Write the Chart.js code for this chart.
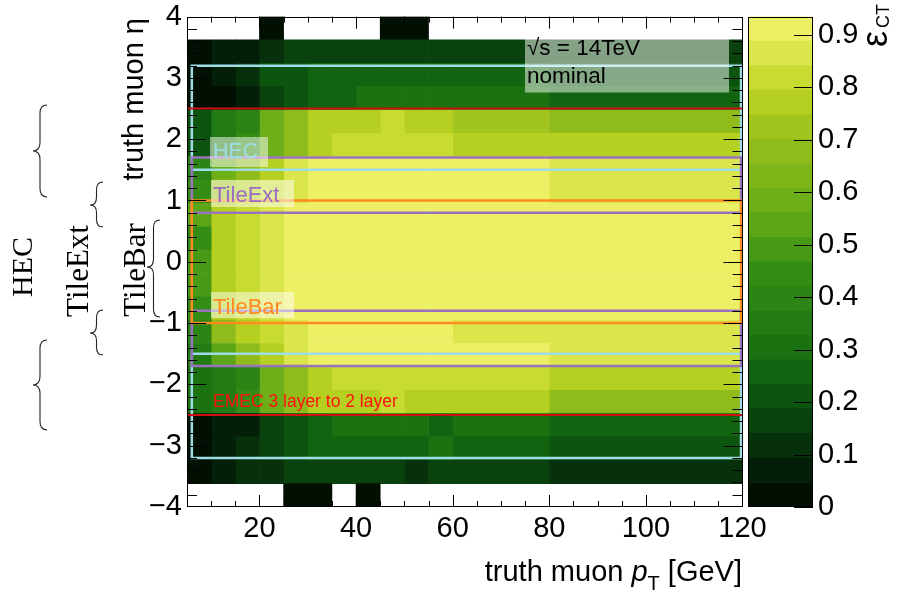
<!DOCTYPE html>
<html>
<head>
<meta charset="utf-8">
<script src="https://cdn.jsdelivr.net/npm/chart.js@4.4.1/dist/chart.umd.min.js"></script>
<style>
html,body{margin:0;padding:0;background:#fff;}
#wrap{position:relative;width:899px;height:599px;overflow:hidden;}
#wrap canvas{position:absolute;left:0;top:0;}
</style>
</head>
<body>
<div id="wrap">
<canvas id="main" width="899" height="599"></canvas>
<canvas id="cbar" width="899" height="599"></canvas>
</div>
<script>
// ---------------- data ----------------
const ptEdges = [5, 10, 15, 20, 25, 30, 35, 40, 45, 50, 55, 60, 80, 120];
const etaCentres = ['3.81','3.43','3.05','2.67','2.29','1.90','1.52','1.14','0.76','0.38','0.00',
                    '-0.38','-0.76','-1.14','-1.52','-1.90','-2.29','-2.67','-3.05','-3.43','-3.81'];
const ptTicks = [20, 40, 60, 80, 100, 120];
const etaTicks = [-4, -3, -2, -1, 0, 1, 2, 3, 4];
const effTicks = [0, 0.1, 0.2, 0.3, 0.4, 0.5, 0.6, 0.7, 0.8, 0.9];
const effMax = 0.935;

// efficiency, one row per eta bin (top row first), one value per pT bin
const effEtaP381 = [null,null,null,0,null,null,null,null,0,0,null,null,null];
const effEtaP343 = [0.02,0.07,0.07,0.12,0.16,0.16,0.16,0.16,0.16,0.16,0.16,0.16,0.16];
const effEtaP305 = [0.02,0.07,0.12,0.21,0.21,0.26,0.26,0.26,0.26,0.26,0.26,0.26,0.21];
const effEtaP267 = [0.02,0.02,0.07,0.16,0.21,0.26,0.26,0.30,0.30,0.30,0.30,0.30,0.26];
const effEtaP229 = [0.21,0.35,0.40,0.58,0.68,0.77,0.77,0.77,0.82,0.77,0.77,0.72,0.70];
const effEtaP190 = [0.21,0.35,0.44,0.58,0.68,0.77,0.82,0.82,0.82,0.82,0.82,0.77,0.77];
const effEtaP152 = [0.40,0.58,0.68,0.77,0.86,0.91,0.91,0.91,0.91,0.91,0.91,0.91,0.86];
const effEtaP114 = [0.44,0.72,0.77,0.82,0.86,0.91,0.91,0.91,0.91,0.91,0.91,0.91,0.86];
const effEtaP076 = [0.54,0.77,0.82,0.86,0.91,0.91,0.91,0.91,0.91,0.91,0.91,0.91,0.91];
const effEtaP038 = [0.44,0.77,0.82,0.86,0.91,0.91,0.91,0.91,0.91,0.91,0.91,0.91,0.91];
const effEta000  = [0.49,0.77,0.82,0.86,0.91,0.91,0.91,0.91,0.91,0.91,0.91,0.91,0.91];
const effEtaM038 = [0.49,0.77,0.82,0.86,0.91,0.91,0.91,0.91,0.91,0.91,0.91,0.91,0.91];
const effEtaM076 = [0.44,0.77,0.82,0.86,0.91,0.91,0.91,0.91,0.91,0.91,0.91,0.91,0.91];
const effEtaM114 = [0.40,0.68,0.77,0.82,0.86,0.91,0.91,0.91,0.91,0.91,0.91,0.86,0.86];
const effEtaM152 = [0.35,0.54,0.68,0.77,0.86,0.91,0.91,0.91,0.91,0.91,0.91,0.91,0.86];
const effEtaM190 = [0.30,0.35,0.40,0.58,0.68,0.77,0.82,0.82,0.82,0.82,0.82,0.82,0.77];
const effEtaM229 = [0.30,0.35,0.44,0.58,0.68,0.77,0.77,0.77,0.82,0.77,0.77,0.77,0.68];
const effEtaM267 = [0.02,0.05,0.07,0.16,0.23,0.26,0.30,0.32,0.30,0.30,0.26,0.30,0.26];
const effEtaM305 = [0.02,0.07,0.12,0.16,0.21,0.26,0.26,0.26,0.26,0.26,0.30,0.26,0.21];
const effEtaM343 = [0.02,0.07,0.12,0.12,0.16,0.16,0.16,0.16,0.16,0.12,0.16,0.16,0.12];
const effEtaM381 = [null,null,null,null,0,0,null,0,null,null,null,null,null];
const effRows = [effEtaP381,effEtaP343,effEtaP305,effEtaP267,effEtaP229,effEtaP190,effEtaP152,
  effEtaP114,effEtaP076,effEtaP038,effEta000,effEtaM038,effEtaM076,effEtaM114,effEtaM152,
  effEtaM190,effEtaM229,effEtaM267,effEtaM305,effEtaM343,effEtaM381];

// detector region overlays (eta ranges)
const hecEta = [1.5, 3.2];
const tileExtEta = [0.8, 1.7];
const tileBarEta = [-1.0, 1.0];
const emecEta = 2.5;
const boxPt = [6, 119.7];

// ---------------- palette ----------------
const palStops = [0, 0.125, 0.25, 0.375, 0.5, 0.625, 0.75, 0.875, 1];
const palRed   = [0, 4, 12, 30, 52, 101, 142, 190, 237];
const palGreen = [0, 40, 86, 121, 140, 172, 187, 213, 240];
const palBlue  = [0, 9, 14, 18, 21, 23, 27, 35, 101];
function paletteAt(t){
  let k = 0;
  while (k < palStops.length - 2 && t > palStops[k+1]) k++;
  const f = (t - palStops[k]) / (palStops[k+1] - palStops[k]);
  const c = a => Math.round(a[k] + (a[k+1] - a[k]) * f);
  return 'rgb(' + c(palRed) + ',' + c(palGreen) + ',' + c(palBlue) + ')';
}
const nLevels = 20;
function levelColor(i){
  const idx = Math.min(254, Math.floor((i + 0.99) * 255 / nLevels));
  return paletteAt(idx / 254);
}
function effColor(v){
  const i = Math.max(0, Math.min(nLevels - 1, Math.floor(v / effMax * nLevels)));
  return levelColor(i);
}

const FONT = "'Liberation Sans', Arial, Helvetica, sans-serif";
const SERIF = "'Liberation Serif', 'Times New Roman', serif";

// ---------------- datasets ----------------
const cellSets = ptEdges.slice(0, -1).map((lo, j) => ({
  type: 'bar', indexAxis: 'y', xAxisID: 'x', yAxisID: 'yc',
  data: effRows.map(r => r[j] == null ? null : [lo, ptEdges[j+1]]),
  backgroundColor: effRows.map(r => r[j] == null ? 'rgba(0,0,0,0)' : effColor(r[j])),
  borderWidth: 0, grouped: false, barPercentage: 1, categoryPercentage: 1, order: 100
}));

function boxPath(e0, e1){
  return [{x:boxPt[0],y:e0},{x:boxPt[1],y:e0},{x:boxPt[1],y:e1},{x:boxPt[0],y:e1},{x:boxPt[0],y:e0}];
}
function lineSet(data, color, order, width){
  return {type:'line', indexAxis:'x', xAxisID:'x', yAxisID:'y', data, borderColor:color,
    borderWidth:width, pointRadius:0, fill:false, tension:0, order};
}
const overlaySets = [
  lineSet(boxPath(hecEta[0], hecEta[1]), '#9fdde6', 4, 2.5),
  lineSet(boxPath(-hecEta[0], -hecEta[1]), '#9fdde6', 4, 2.5),
  lineSet(boxPath(tileExtEta[0], tileExtEta[1]), '#9a72c0', 3, 2.5),
  lineSet(boxPath(-tileExtEta[0], -tileExtEta[1]), '#9a72c0', 3, 2.5),
  lineSet(boxPath(tileBarEta[0], tileBarEta[1]), '#ff8a1e', 2, 2.5),
  lineSet([{x:5,y:emecEta},{x:120,y:emecEta}], '#cc1010', 1, 2),
  lineSet([{x:5,y:-emecEta},{x:120,y:-emecEta}], '#cc1010', 1, 2)
];

// ---------------- decorations ----------------
function seg(ctx, x1, y1, x2, y2){ ctx.beginPath(); ctx.moveTo(x1, y1); ctx.lineTo(x2, y2); ctx.stroke(); }
function brace(ctx, xr, xl, y0, y1, ym){
  const xm = (xr + xl) / 2, q = (xr - xl) * 0.6;
  ctx.beginPath();
  ctx.moveTo(xr, y0);
  ctx.quadraticCurveTo(xm, y0, xm, y0 + q);
  ctx.lineTo(xm, ym - q);
  ctx.quadraticCurveTo(xm, ym, xl, ym);
  ctx.quadraticCurveTo(xm, ym, xm, ym + q);
  ctx.lineTo(xm, y1 - q);
  ctx.quadraticCurveTo(xm, y1, xr, y1);
  ctx.stroke();
}
function rotText(ctx, txt, x, y, align, font, color){
  ctx.save();
  ctx.translate(x, y); ctx.rotate(-Math.PI / 2);
  ctx.font = font; ctx.fillStyle = color; ctx.textAlign = align; ctx.textBaseline = 'alphabetic';
  ctx.fillText(txt, 0, 0);
  ctx.restore();
}

const labelBoxes = [
  {box:[210,137,268,167], text:'HEC', x:213, y:158, size:21.5, color:'#9fdde6'},
  {box:[211,180,294,207], text:'TileExt', x:213, y:202, size:22, color:'#9b6cc4'},
  {box:[211,292,294,318], text:'TileBar', x:213, y:314, size:22, color:'#ff8a24'},
  {box:null, text:'EMEC 3 layer to 2 layer', x:213, y:406.5, size:17.5, color:'#ff1010'}
];

const mainDecor = {
  id: 'mainDecor',
  afterDatasetsDraw(chart){
    const ctx = chart.ctx;
    ctx.save();
    labelBoxes.forEach(l => {
      if (l.box) {
        ctx.fillStyle = 'rgba(255,255,255,0.5)';
        ctx.fillRect(l.box[0], l.box[1], l.box[2]-l.box[0], l.box[3]-l.box[1]);
      }
      ctx.font = l.size + 'px ' + FONT;
      ctx.fillStyle = l.color; ctx.textAlign = 'left'; ctx.textBaseline = 'alphabetic';
      ctx.fillText(l.text, l.x, l.y);
    });
    // sqrt(s) box
    ctx.fillStyle = 'rgba(255,255,255,0.5)';
    ctx.fillRect(525, 36, 204, 56.5);
    ctx.fillStyle = '#000';
    ctx.font = '22.5px ' + FONT;
    ctx.fillText('\u221As = 14TeV', 527, 55);
    ctx.fillText('nominal', 527, 83);
    ctx.restore();
  },
  afterDraw(chart){
    const {ctx, chartArea: a, scales} = chart;
    const xs = scales.x, ys = scales.y;
    ctx.save();
    ctx.strokeStyle = '#000'; ctx.lineWidth = 1;
    // x ticks (bottom and top, inward)
    for (let v = 10; v < 120; v += 5) {
      const px = Math.round(xs.getPixelForValue(v)) + 0.5;
      const L = (v % 20 === 0) ? 12 : 6;
      seg(ctx, px, a.bottom, px, a.bottom - L);
      seg(ctx, px, a.top, px, a.top + L);
    }
    // y ticks (left and right, inward)
    for (let k = -19; k <= 19; k++) {
      const py = Math.round(ys.getPixelForValue(k * 0.2)) + 0.5;
      const L = (k % 5 === 0) ? 19 : 10;
      seg(ctx, a.left, py, a.left + L, py);
      seg(ctx, a.right, py, a.right - L, py);
    }
    // frame
    ctx.strokeRect(Math.round(a.left) + 0.5, Math.round(a.top) + 0.5,
                   Math.round(a.right) - Math.round(a.left) - 1, Math.round(a.bottom) - Math.round(a.top) - 1);
    // y title
    rotText(ctx, 'truth muon \u03B7', 143, 18, 'right', '29px ' + FONT, '#000');
    // x title: truth muon p_T [GeV]
    const base = 581, right = 742;
    const f1 = '29px ' + FONT, fi = 'italic 29px ' + FONT, fs = '20px ' + FONT;
    ctx.font = f1; const w3 = ctx.measureText(' [GeV]').width, w1 = ctx.measureText('truth muon ').width;
    ctx.font = fi; const w2 = ctx.measureText('p').width;
    ctx.font = fs; const wT = ctx.measureText('T').width;
    let x0 = right - w3 - wT - w2 - w1;
    ctx.fillStyle = '#000'; ctx.textAlign = 'left'; ctx.textBaseline = 'alphabetic';
    ctx.font = f1; ctx.fillText('truth muon ', x0, base); x0 += w1;
    ctx.font = fi; ctx.fillText('p', x0, base); x0 += w2;
    ctx.font = fs; ctx.fillText('T', x0, base + 9); x0 += wT;
    ctx.font = f1; ctx.fillText(' [GeV]', x0, base);
    // braces and detector names on the left
    ctx.strokeStyle = '#222'; ctx.lineWidth = 1.1;
    brace(ctx, 47, 33, 105, 197, 151);
    brace(ctx, 47, 33, 340, 430, 385);
    brace(ctx, 103, 90, 182, 227, 205);
    brace(ctx, 103, 90, 310, 355, 333);
    brace(ctx, 160, 147, 220, 317, 267);
    rotText(ctx, 'HEC', 32, 267, 'center', '30px ' + SERIF, '#000');
    rotText(ctx, 'TileExt', 88, 271, 'center', '31px ' + SERIF, '#000');
    rotText(ctx, 'TileBar', 145, 270, 'center', '31px ' + SERIF, '#000');
    ctx.restore();
  }
};

const tickFontY = {family: FONT, size: 29, lineHeight: 0.8};
const tickFontX = {family: FONT, size: 29, lineHeight: 1.2};
const minusFmt = v => (v < 0 ? '\u2212' + Math.abs(v) : String(v));

new Chart(document.getElementById('main'), {
  type: 'bar',
  data: { labels: etaCentres, datasets: [...cellSets, ...overlaySets] },
  options: {
    indexAxis: 'y', responsive: false, animation: false, devicePixelRatio: 1, events: [],
    layout: { padding: { left: 0, top: 13.5, right: 156.5, bottom: 0 } },
    plugins: { legend: { display: false }, tooltip: { enabled: false } },
    scales: {
      x: { type: 'linear', axis: 'x', position: 'bottom', min: 5, max: 120, offset: false,
           afterFit: s => { s.height = 92; },
           afterBuildTicks: s => { s.ticks = ptTicks.map(v => ({ value: v })); },
           grid: { display: false, drawTicks: false, offset: false }, border: { display: false },
           ticks: { font: tickFontX, color: '#000', padding: 5, maxRotation: 0, autoSkip: false } },
      yc: { type: 'category', axis: 'y', labels: etaCentres, display: false, offset: true, grid: { offset: true } },
      y: { type: 'linear', axis: 'y', position: 'left', min: -4, max: 4, offset: false,
           afterFit: s => { s.width = 187; },
           afterBuildTicks: s => { s.ticks = etaTicks.map(v => ({ value: v })); },
           grid: { display: false, drawTicks: false, offset: false }, border: { display: false },
           ticks: { font: tickFontY, color: '#000', padding: 5, callback: minusFmt, autoSkip: false } }
    }
  },
  plugins: [mainDecor]
});

// ---------------- colour bar ----------------
const levelIdx = Array.from({length: nLevels}, (_, i) => i);
const cbarDecor = {
  id: 'cbarDecor',
  afterDraw(chart){
    const {ctx, chartArea: a, scales} = chart;
    const zs = scales.y;
    ctx.save();
    ctx.strokeStyle = '#000'; ctx.lineWidth = 1;
    effTicks.forEach(v => {
      const py = Math.round(zs.getPixelForValue(v)) + 0.5;
      seg(ctx, a.right, py, a.right - 19, py);
    });
    ctx.strokeRect(Math.round(a.left) + 0.5, Math.round(a.top) + 0.5,
                   Math.round(a.right) - Math.round(a.left) - 1, Math.round(a.bottom) - Math.round(a.top) - 1);
    // title epsilon_CT (rotated, reading upwards, ending near the top)
    ctx.translate(887, 4); ctx.rotate(-Math.PI / 2);
    ctx.fillStyle = '#000'; ctx.textAlign = 'right'; ctx.textBaseline = 'alphabetic';
    ctx.font = '18px ' + FONT; const wct = ctx.measureText('CT').width;
    ctx.fillText('CT', 0, 2);
    ctx.font = '36px ' + FONT;
    ctx.fillText('\u03B5', -wct - 3, 0);
    ctx.restore();
  }
};
new Chart(document.getElementById('cbar'), {
  type: 'bar',
  data: { labels: ['z'], datasets: levelIdx.map(i => ({
    data: [[i * effMax / nLevels, (i + 1) * effMax / nLevels]],
    backgroundColor: levelColor(i), borderWidth: 0, grouped: false, barPercentage: 1, categoryPercentage: 1 })) },
  options: {
    responsive: false, animation: false, devicePixelRatio: 1, events: [],
    layout: { padding: { left: 748, top: 13.5, right: 0, bottom: 92 } },
    plugins: { legend: { display: false }, tooltip: { enabled: false } },
    scales: {
      x: { type: 'category', display: false },
      y: { type: 'linear', position: 'right', min: 0, max: effMax, offset: false,
           afterFit: s => { s.width = 86; },
           afterBuildTicks: s => { s.ticks = effTicks.map(v => ({ value: v })); },
           grid: { display: false, drawTicks: false }, border: { display: false },
           ticks: { font: tickFontY, color: '#000', padding: 5, autoSkip: false,
                    callback: v => (v === 0 ? '0' : v.toFixed(1)) } }
    }
  },
  plugins: [cbarDecor]
});
</script>
</body>
</html>
